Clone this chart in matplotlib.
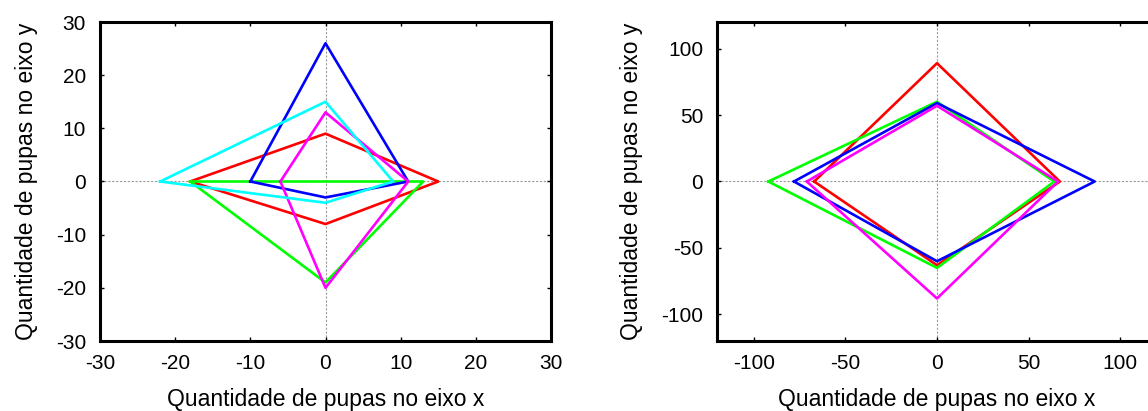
import matplotlib
matplotlib.use("Agg")
import matplotlib.pyplot as plt

plt.rcParams['font.family'] = ['Liberation Sans', 'DejaVu Sans']
plt.rcParams['axes.unicode_minus'] = False

# each series: x_left, y_top, x_right, y_bottom (vertices on the axes)
colors_left = ['red', 'lime', 'blue', 'magenta', 'cyan']
x_left_a = [-18, -18, -10, -6, -22]
y_top_a = [9, 0, 26, 13, 15]
x_right_a = [15, 13, 11, 11, 9]
y_bottom_a = [-8, -19, -3, -20, -4]

colors_right = ['red', 'lime', 'blue', 'magenta']
x_left_b = [-67, -92, -78, -71]
y_top_b = [89, 60, 59, 57]
x_right_b = [67, 64, 86, 66]
y_bottom_b = [-63, -65, -60, -88]

ticks_left = [-30, -20, -10, 0, 10, 20, 30]
ticks_right = [-100, -50, 0, 50, 100]

fig = plt.figure(figsize=(11.48, 4.11), dpi=100)
ax1 = fig.add_axes([100 / 1148, 70 / 411, 451 / 1148, 319 / 411])
ax2 = fig.add_axes([717 / 1148, 70 / 411, 440 / 1148, 319 / 411])


def draw(ax, colors, xl, yt, xr, yb):
    ax.axhline(0, color='#999999', linestyle=(0, (2, 1.5)), linewidth=0.8, zorder=1)
    ax.axvline(0, color='#999999', linestyle=(0, (2, 1.5)), linewidth=0.8, zorder=1)
    for c, a, b, d, e in zip(colors, xl, yt, xr, yb):
        ax.plot([a, 0, d, 0, a], [0, b, 0, e, 0], color=c, linewidth=1.9, zorder=2)


draw(ax1, colors_left, x_left_a, y_top_a, x_right_a, y_bottom_a)
draw(ax2, colors_right, x_left_b, y_top_b, x_right_b, y_bottom_b)

ax1.set_xlim(-30, 30)
ax1.set_ylim(-30, 30)
ax1.set_xticks(ticks_left)
ax1.set_yticks(ticks_left)

ax2.set_xlim(-120, 120)
ax2.set_ylim(-120, 120)
ax2.set_xticks(ticks_right)
ax2.set_yticks(ticks_right)

for ax in (ax1, ax2):
    for s in ax.spines.values():
        s.set_linewidth(2.2)
    ax.tick_params(direction='in', length=3, width=1, top=True, right=True,
                   labelsize=15)
    ax.tick_params(axis='x', pad=9)
    ax.tick_params(axis='y', pad=10)
    ax.set_xlabel('Quantidade de pupas no eixo x', fontsize=16.5, labelpad=11)
    ax.set_ylabel('Quantidade de pupas no eixo y', fontsize=16.5, labelpad=13)

fig.savefig('out.png', dpi=100)
